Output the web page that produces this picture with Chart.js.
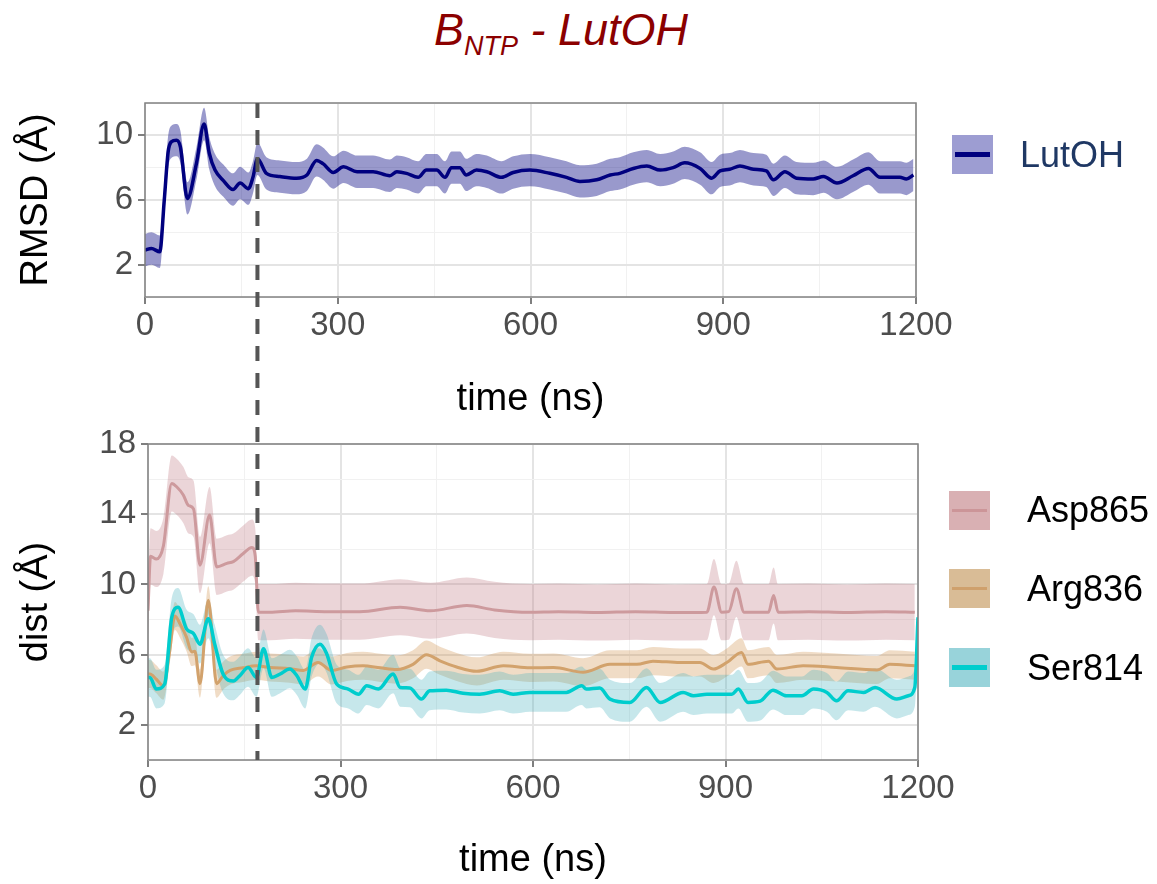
<!DOCTYPE html>
<html>
<head>
<meta charset="utf-8">
<script src="https://cdn.jsdelivr.net/npm/chart.js@4.4.0/dist/chart.umd.min.js"></script>
<style>
body { margin: 0; background: #fff; width: 1157px; height: 884px; overflow: hidden; position: relative; font-family: "Liberation Sans", Arial, sans-serif; }
canvas { position: absolute; left: 0; }
#top-chart { top: 60px; }
#bottom-chart { top: 400px; }
#overlay { top: 0; pointer-events: none; }
.title { position: absolute; left: 0; width: 1122px; top: 8px; line-height: 44px; text-align: center; font-style: italic; font-size: 45px; color: #8b0000; }
.title .sub { font-size: 27px; position: relative; top: 10px; }
.key { position: absolute; width: 41px; height: 39px; }
.key i { position: absolute; left: 3px; right: 3px; top: 50%; }
.lbl { position: absolute; font-size: 36px; line-height: 40px; color: #000; }
</style>
</head>
<body>
<div class="title">B<span class="sub">NTP</span> - LutOH</div>
<canvas id="top-chart" width="970" height="370"></canvas>
<canvas id="bottom-chart" width="970" height="484"></canvas>
<canvas id="overlay" width="1157" height="884"></canvas>

<div class="key" style="left:952px;top:135px;background:#9d9dd2"><i style="height:5px;margin-top:-2.5px;background:#00007f"></i></div>
<div class="lbl" style="left:1020px;top:135px;color:#1f3864">LutOH</div>

<div class="key" style="left:949px;top:491px;background:#d9b0b3"><i style="height:3px;margin-top:-1.5px;background:#cc9598"></i></div>
<div class="lbl" style="left:1027px;top:490px">Asp865</div>
<div class="key" style="left:949px;top:569px;background:#d9bc96"><i style="height:3px;margin-top:-1.5px;background:#cfa06c"></i></div>
<div class="lbl" style="left:1027px;top:569px">Arg836</div>
<div class="key" style="left:949px;top:648px;background:#98d3da"><i style="height:5px;margin-top:-2.5px;background:#00cdcd"></i></div>
<div class="lbl" style="left:1027px;top:648px">Ser814</div>

<script>
// RMSD of LutOH (top panel)
var lutTime = [0, 10, 23, 30, 36, 41, 49, 55, 66, 80, 92, 100, 109, 122, 137, 148, 161, 168, 175, 189, 210, 236, 252, 267, 277, 293, 309, 330, 355, 381, 392, 407, 425, 438, 454, 467, 477, 490, 500, 516, 532, 555, 573, 599, 630, 656, 677, 703, 724, 739, 760, 781, 802, 822, 840, 864, 882, 895, 910, 926, 947, 967, 978, 996, 1014, 1040, 1056, 1077, 1102, 1126, 1144, 1175, 1185, 1196];
var lutRmsd = [2.9, 3.0, 2.8, 6.0, 8.97, 9.6, 9.7, 9.3, 6.1, 8.25, 10.7, 8.9, 7.85, 7.2, 6.65, 7.05, 6.7, 7.4, 8.55, 7.65, 7.45, 7.35, 7.55, 8.45, 8.25, 7.7, 8.05, 7.75, 7.75, 7.5, 7.75, 7.65, 7.4, 7.85, 7.85, 7.4, 8.0, 8.0, 7.55, 7.85, 7.75, 7.4, 7.7, 7.85, 7.65, 7.4, 7.15, 7.25, 7.55, 7.65, 7.95, 8.1, 7.85, 8.0, 8.3, 7.95, 7.35, 7.8, 7.9, 8.1, 7.9, 7.8, 7.25, 7.75, 7.35, 7.3, 7.45, 7.05, 7.5, 7.95, 7.4, 7.4, 7.3, 7.55];
var lutBand = 1.0;

// distances (bottom panel)
var aspTime = [0, 4, 13, 24, 37, 45, 55, 63, 71, 81, 96, 107, 123, 133, 148, 162, 167, 172, 190, 230, 280, 330, 393, 440, 497, 540, 595, 640, 700, 760, 820, 871, 882, 894, 905, 917, 929, 967, 975, 982, 1030, 1090, 1150, 1195];
var aspDist = [8.5, 11.6, 11.45, 12.2, 15.75, 15.55, 15.1, 14.5, 14.3, 11.1, 13.95, 11.0, 11.2, 11.3, 11.75, 12.1, 11.65, 8.42, 8.42, 8.5, 8.45, 8.45, 8.7, 8.5, 8.8, 8.55, 8.42, 8.45, 8.4, 8.45, 8.4, 8.42, 9.85, 8.42, 8.45, 9.75, 8.42, 8.42, 9.37, 8.42, 8.45, 8.4, 8.45, 8.42];
var aspBand = 1.6;

var argTime = [0, 3, 13, 24, 33, 42, 50, 60, 68, 73, 81, 94, 107, 117, 128, 148, 169, 190, 221, 242, 265, 286, 310, 335, 362, 388, 413, 434, 455, 481, 512, 554, 595, 632, 678, 720, 762, 787, 829, 860, 881, 902, 925, 935, 967, 980, 1021, 1073, 1136, 1156, 1195];
var argDist = [4.9, 4.9, 4.6, 4.23, 6.0, 8.2, 7.75, 7.0, 6.15, 6.2, 4.35, 9.1, 4.35, 4.8, 5.1, 5.25, 5.37, 5.27, 5.2, 5.1, 5.56, 5.1, 5.3, 5.37, 5.25, 5.15, 5.45, 6.0, 5.65, 5.3, 5.05, 5.37, 5.25, 5.27, 5.0, 5.45, 5.45, 5.63, 5.55, 5.55, 5.18, 5.55, 6.13, 5.45, 5.63, 5.18, 5.37, 5.27, 5.13, 5.45, 5.37];
var argBand = 0.8;

var serTime = [0, 3, 13, 26, 37, 47, 60, 71, 81, 94, 104, 117, 133, 143, 156, 169, 180, 193, 206, 221, 232, 245, 255, 268, 278, 294, 312, 328, 341, 359, 382, 393, 408, 426, 439, 465, 491, 517, 548, 569, 595, 620, 652, 676, 683, 704, 720, 751, 777, 798, 834, 850, 871, 891, 910, 920, 935, 954, 974, 995, 1019, 1037, 1058, 1073, 1091, 1115, 1133, 1167, 1185, 1195, 1200];
var serDist = [4.7, 4.7, 4.04, 4.33, 8.13, 8.7, 7.47, 7.2, 6.6, 8.04, 6.6, 4.9, 4.5, 4.8, 5.27, 4.7, 6.33, 4.7, 4.9, 5.18, 4.8, 4.04, 5.85, 6.6, 6.1, 4.33, 4.04, 3.75, 4.23, 4.04, 4.9, 4.13, 4.1, 3.47, 3.94, 3.98, 3.8, 3.75, 3.94, 3.75, 3.85, 3.85, 3.85, 4.23, 4.04, 4.1, 3.47, 3.28, 4.13, 3.28, 3.85, 3.66, 3.75, 3.75, 3.75, 4.04, 3.28, 3.35, 3.98, 3.66, 3.66, 4.04, 3.85, 3.37, 3.94, 3.85, 4.13, 3.47, 3.66, 4.13, 8.13];
var serBand = 1.1;

var vLine = 175;

Chart.defaults.font.family = '"Liberation Sans", Arial, sans-serif';

var gridMajor = '#e4e4e4';
var gridMinor = '#f1f1f1';

function pts(xs, ys, off) {
    return xs.map(function(x, i) { return {x: x, y: ys[i] + off}; });
}

function line(label, xs, ys, color, width) {
    return {label: label, data: pts(xs, ys, 0), borderColor: color, borderWidth: width,
            pointRadius: 0, cubicInterpolationMode: 'monotone', fill: false};
}

function band(xs, ys, half, color, target) {
    return [
        {label: 'up', data: pts(xs, ys, half), borderColor: 'rgba(0,0,0,0)', borderWidth: 0,
         pointRadius: 0, cubicInterpolationMode: 'monotone', fill: target, backgroundColor: color},
        {label: 'lo', data: pts(xs, ys, -half), borderColor: 'rgba(0,0,0,0)', borderWidth: 0,
         pointRadius: 0, cubicInterpolationMode: 'monotone', fill: false}
    ];
}

function isMajor(c, step) {
    return c.tick && Math.round(c.tick.value) % step === (step === 4 ? 2 : 0);
}

function gridOpts(step) {
    return {
        color: function(c) { return isMajor(c, step) ? gridMajor : gridMinor; },
        lineWidth: function(c) { return isMajor(c, step) ? 2 : 1; },
        tickColor: function(c) { return isMajor(c, step) ? '#555' : 'rgba(0,0,0,0)'; },
        tickLength: 7,
        tickWidth: 1.5,
        drawTicks: true
    };
}

function xAxis(h, padBottom) {
    return {
        type: 'linear', min: 0, max: 1200,
        afterFit: function(s) { s.height = h; },
        ticks: {stepSize: 150, autoSkip: false, maxRotation: 0, color: '#4d4d4d', font: {size: 33}, padding: 2,
                callback: function(v) { return v % 300 === 0 ? v : ''; }},
        grid: gridOpts(300),
        border: {display: false},
        title: {display: true, text: 'time (ns)', color: '#000', font: {size: 38}, padding: {top: 0, bottom: padBottom}}
    };
}

function yAxis(w, max, text) {
    return {
        type: 'linear', min: 0, max: max,
        afterFit: function(s) { s.width = w; },
        ticks: {stepSize: 2, autoSkip: false, color: '#4d4d4d', font: {size: 33}, padding: 5,
                callback: function(v) { return v % 4 === 2 ? v : ''; }},
        grid: gridOpts(4),
        border: {display: false},
        title: {display: true, text: text, color: '#000', font: {size: 38}, padding: {top: 14, bottom: 0}}
    };
}

var panelBorder = {
    id: 'panelBorder',
    afterDatasetsDraw: function(chart) {
        var a = chart.chartArea, ctx = chart.ctx;
        ctx.save();
        ctx.strokeStyle = '#808080';
        ctx.lineWidth = 1.5;
        ctx.strokeRect(a.left, a.top, a.right - a.left, a.bottom - a.top);
        ctx.restore();
    }
};

var common = {
    responsive: false, animation: false, devicePixelRatio: 1,
    plugins: {legend: {display: false}, tooltip: {enabled: false}}
};

var topCtx = document.getElementById('top-chart').getContext('2d');
var topChart = new Chart(topCtx, {
    type: 'line',
    data: {datasets: [line('LutOH', lutTime, lutRmsd, '#00007f', 3.5)].concat(band(lutTime, lutRmsd, lutBand, 'rgba(0,0,128,0.4)', 2))},
    options: Object.assign({}, common, {
        layout: {padding: {left: 0, top: 43, right: 54, bottom: 0}},
        scales: {x: xAxis(133, 8), y: yAxis(145, 12, 'RMSD (Å)')}
    }),
    plugins: [panelBorder]
});

var bottomCtx = document.getElementById('bottom-chart').getContext('2d');
var bottomChart = new Chart(bottomCtx, {
    type: 'line',
    data: {datasets: [
        line('Ser814', serTime, serDist, '#00cdcd', 3.5),
        line('Arg836', argTime, argDist, '#d2a26c', 3),
        line('Asp865', aspTime, aspDist, '#cd9a9d', 3)
    ].concat(band(serTime, serDist, serBand, 'rgba(65,175,188,0.3)', 4))
     .concat(band(argTime, argDist, argBand, 'rgba(205,138,65,0.3)', 6))
     .concat(band(aspTime, aspDist, aspBand, 'rgba(188,115,125,0.3)', 8))},
    options: Object.assign({}, common, {
        layout: {padding: {left: 0, top: 44, right: 52, bottom: 0}},
        scales: {x: xAxis(124, 1), y: yAxis(148, 18, 'dist (Å)')}
    }),
    plugins: [panelBorder]
});

// dashed marker line running through both panels
var ov = document.getElementById('overlay').getContext('2d');
var lx = topChart.canvas.offsetLeft + topChart.scales.x.getPixelForValue(vLine);
var y0 = topChart.canvas.offsetTop + topChart.chartArea.top;
var y1 = bottomChart.canvas.offsetTop + bottomChart.chartArea.bottom;
ov.strokeStyle = '#555';
ov.lineWidth = 4;
ov.setLineDash([15, 12]);
ov.beginPath();
ov.moveTo(lx, y0);
ov.lineTo(lx, y1);
ov.stroke();
</script>
</body>
</html>
